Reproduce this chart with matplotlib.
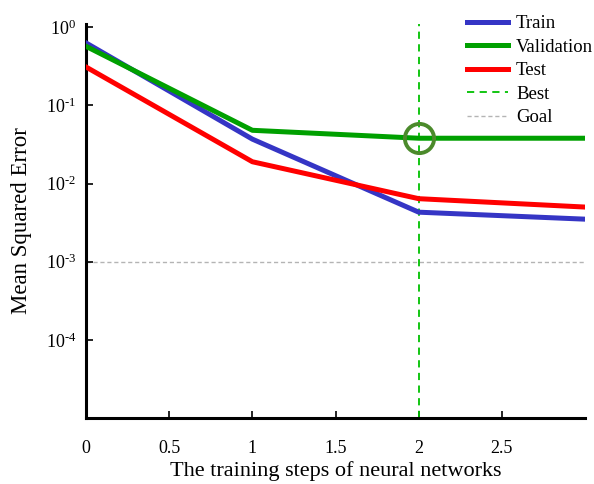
import matplotlib
matplotlib.use("Agg")
import matplotlib.pyplot as plt

plt.rcParams['font.family'] = ['Liberation Serif', 'DejaVu Serif']
plt.rcParams['mathtext.fontset'] = 'custom'
plt.rcParams['mathtext.rm'] = 'Liberation Serif'
plt.rcParams['mathtext.it'] = 'Liberation Serif:italic'

epochs = [0, 1, 2, 3]
train = [0.63, 0.037, 0.0043, 0.0035]
validation = [0.57, 0.048, 0.038, 0.038]
test = [0.31, 0.019, 0.0064, 0.005]
best_epoch = 2
best_value = 0.038
goal = 1e-3
xtick_vals = [0, 0.5, 1, 1.5, 2, 2.5]
xtick_labels = ['0', '0.5', '1', '1.5', '2', '2.5']
ytick_vals = [1, 1e-1, 1e-2, 1e-3, 1e-4]
ytick_labels = [r'$10^{0}$', r'$10^{\text{-}1}$', r'$10^{\text{-}2}$', r'$10^{\text{-}3}$', r'$10^{\text{-}4}$']

fig = plt.figure(figsize=(5.94, 4.84), dpi=100)
ax = fig.add_axes([0.1448, 0.1364, 0.8402, 0.814])

ax.plot(epochs, train, color='#3535c5', lw=3.6, label='Train', zorder=3)
ax.plot(epochs, validation, color='#00a000', lw=3.6, label='Validation', zorder=4)
ax.plot(epochs, test, color='#ff0000', lw=3.6, label='Test', zorder=3)
ax.axvline(best_epoch, color='#00c000', lw=1.3, ls=(0, (4, 3)), label='Best', zorder=2)
ax.axhline(goal, color='#b4b4b4', lw=1.0, ls=(0, (3, 2)), label='Goal', zorder=1)
ax.plot([best_epoch], [best_value], marker='o', ms=21, mfc='none', mec='#4b8a2b', mew=2.8, zorder=5)

ax.set_yscale('log')
ax.set_xlim(0, 3)
ax.set_ylim(1e-5, 1.1)
ax.set_xticks(xtick_vals)
ax.set_xticklabels(xtick_labels)
ax.set_yticks(ytick_vals)
ax.set_yticklabels(ytick_labels)
ax.minorticks_off()
ax.tick_params(direction='in', length=5, width=1.2, labelsize=13)
ax.tick_params(axis='x', pad=16)
ax.tick_params(axis='y', pad=7)

for s in ['top', 'right']:
    ax.spines[s].set_visible(False)
for s in ['left', 'bottom']:
    ax.spines[s].set_linewidth(2.2)

ax.set_xlabel('The training steps of neural networks', fontsize=16, labelpad=3)
ax.set_ylabel('Mean Squared Error', fontsize=16.5, labelpad=10)

leg = ax.legend(loc='upper right', bbox_to_anchor=(1.05, 1.065), frameon=False, fontsize=13.5,
                handlelength=2.15, handletextpad=0.45, labelspacing=0.34)

fig.savefig('out.png', dpi=100)
